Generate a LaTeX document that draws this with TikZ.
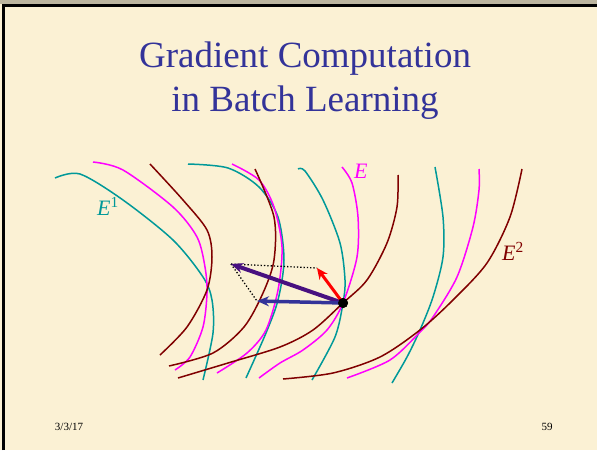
\documentclass[tikz,border=0pt]{standalone}
\usepackage{fontspec}
\setmainfont{Liberation Serif}
\usepackage{tikz}
\usetikzlibrary{arrows.meta,calc}
\definecolor{slidebg}{RGB}{251,241,212}
\definecolor{titleblue}{RGB}{51,51,153}
\definecolor{eteal}{RGB}{0,153,153}
\definecolor{emag}{RGB}{255,0,255}
\definecolor{ered}{RGB}{128,0,0}
\definecolor{gpurple}{RGB}{72,16,128}
\definecolor{gblue}{RGB}{51,51,153}
\tikzset{
  contour/.style={line width=1.5pt,smooth},
  grad/.style={-{Stealth[length=12pt,width=10pt]},line width=3.5pt},
  elabel/.style={anchor=base west,inner sep=0pt,font=\fontsize{22}{24}\selectfont\itshape},
  foot/.style={anchor=base,inner sep=0pt,font=\fontsize{11}{13}\selectfont}
}

\begin{document}
\begin{tikzpicture}[x=1pt,y=-1pt,>=Stealth]
    \useasboundingbox (0,0) rectangle (597,450);
    \fill[slidebg] (0,0) rectangle (597,450);
    \fill[black!25!slidebg] (0,0) rectangle (597,4);
    \draw[line width=3pt] (3.5,450)--(3.5,5.5)--(597,5.5);
    % title
    \node[anchor=base,inner sep=0pt,text=titleblue,font=\fontsize{37}{44}\selectfont] (t1) at (305,67) {Gradient Computation};
    \node[anchor=base,inner sep=0pt,text=titleblue,font=\fontsize{37}{44}\selectfont] (t2) at (305,111) {in Batch Learning};
    % error contours, E^1
    \draw[eteal,contour] plot coordinates {(55,178) (80,174) (123,200) (173,240) (203,277) (212,300) (213,333) (203,380)};
    \draw[eteal,contour] plot coordinates {(188,164) (228,168) (259,187) (278,217) (284,260) (278,300) (266,333) (246,378)};
    \draw[eteal,contour] plot coordinates {(298,169) (305,171) (323,200) (340,243) (345,280) (343,303) (335,337) (312,380)};
    \draw[eteal,contour] plot coordinates {(435,167) (443,217) (443,257) (433,297) (420,330) (407,357) (392,383)};
    % error contours, E
    \draw[emag,contour] plot coordinates {(93,162) (123,170) (173,207) (197,237) (205,267) (207,293) (203,327) (190,357) (175,370)};
    \draw[emag,contour] plot coordinates {(232,164) (259,180) (274,207) (282,247) (278,290) (266,330) (247,353) (217,373)};
    \draw[emag,contour] plot coordinates {(342,167) (352,183) (358,217) (357,257) (343,303) (327,330) (303,350) (280,363) (259,378)};
    \draw[emag,contour] plot coordinates {(479,169) (479,190) (473,227) (457,277) (433,317) (420,332) (390,360) (347,378)};
    % error contours, E^2
    \draw[ered,contour] plot coordinates {(150,164) (183,200) (207,230) (212,257) (207,290) (187,327) (160,355)};
    \draw[ered,contour] plot coordinates {(255,169) (274,217) (274,260) (263,293) (244,327) (213,353) (169,366)};
    \draw[ered,contour] plot coordinates {(398,175) (397,207) (387,243) (367,280) (343,303) (313,330) (280,347) (228,363) (178,378)};
    \draw[ered,contour] plot coordinates {(522,169) (510,217) (487,263) (453,300) (420,330) (380,357) (333,373) (283,379)};
    % labels
    \node[elabel,text=eteal] (l1) at (97,215) {E\textsuperscript{\upshape 1}};
    \node[elabel,text=emag] (l0) at (354,178) {E};
    \node[elabel,text=ered] (l2) at (502,260) {E\textsuperscript{\upshape 2}};
    % gradients
    \coordinate (g1) at (317,268);
    \coordinate (g2) at (257,301);
    \coordinate (gsum) at (231,264);
    \draw[dotted,line width=1.3pt] (gsum)--(g1);
    \draw[dotted,line width=1.3pt] (gsum)--(g2);
    \node[circle,fill=black,inner sep=0pt,minimum size=10pt] (w) at (343,303) {};
    \draw[grad,gpurple,line width=4pt] (w.center)--(gsum);
    \draw[grad,gblue] (w.center)--(g2);
    \draw[grad,red,line width=3pt,-{Stealth[length=11pt,width=10pt]}] (w.center)--(g1);
    \node[circle,fill=black,inner sep=0pt,minimum size=10pt] at (w) {};
    % footer
    \node[foot] (date) at (69,430) {3/3/17};
    \node[foot] (page) at (547,430) {59};
\end{tikzpicture}
\end{document}
